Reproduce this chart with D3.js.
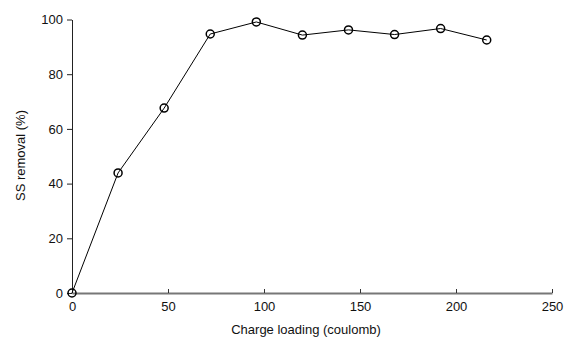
<!DOCTYPE html>
<html>
<head>
<meta charset="utf-8">
<style>
  body { margin: 0; background: #fff; }
  text { font-family: "Liberation Sans", Arial, sans-serif; font-size: 13px; }
</style>
</head>
<body>
<script src="https://cdn.jsdelivr.net/npm/d3@7"></script>
<script>

// Data
var charge  = [0, 24, 48, 72, 96, 120, 144, 168, 192, 216];
var removal = [0, 43.9, 67.6, 94.7, 99.1, 94.3, 96.2, 94.5, 96.7, 92.5];
var xTicks = [0, 50, 100, 150, 200, 250];
var yTicks = [0, 20, 40, 60, 80, 100];

var width = 569, height = 338;
var margin = {top: 19.5, right: 17, bottom: 45, left: 72};

var svg = d3.select("body").append("svg")
    .attr("width", width)
    .attr("height", height);

var x = d3.scaleLinear().domain([0, 250]).range([margin.left, width - margin.right]);
var y = d3.scaleLinear().domain([0, 100]).range([height - margin.bottom, margin.top]);

// y axis: thin dark line, ticks outward
var yAxis = svg.append("g")
    .attr("transform", `translate(${x(0)},0)`)
    .call(d3.axisLeft(y).tickValues(yTicks).tickSize(5).tickPadding(4).tickSizeOuter(0));
yAxis.select(".domain").attr("stroke", "#222");
yAxis.selectAll(".tick line").attr("stroke", "#222");
yAxis.selectAll("text").style("font-size", "13px").style("font-family", "Liberation Sans, Arial, sans-serif").attr("fill", "#111");

// x axis: gray line, ticks pointing up
var xAxis = svg.append("g")
    .attr("transform", `translate(0,${y(0)})`)
    .call(d3.axisBottom(x).tickValues(xTicks).tickSize(-4).tickPadding(9).tickSizeOuter(0));
xAxis.select(".domain").attr("stroke", "#777").attr("stroke-width", 2);
xAxis.selectAll(".tick line").attr("stroke", "#333");
xAxis.selectAll("text").style("font-size", "13px").style("font-family", "Liberation Sans, Arial, sans-serif").attr("fill", "#111");

// line
var line = d3.line()
    .x(function(d, i) { return x(charge[i]); })
    .y(function(d) { return y(d); });

svg.append("path")
    .datum(removal)
    .attr("fill", "none")
    .attr("stroke", "#000")
    .attr("stroke-width", 1)
    .attr("d", line);

// markers
svg.selectAll(".pt")
    .data(removal)
  .enter().append("circle")
    .attr("class", "pt")
    .attr("cx", function(d, i) { return x(charge[i]); })
    .attr("cy", function(d) { return y(d); })
    .attr("r", 4)
    .attr("fill", "none")
    .attr("stroke", "#000")
    .attr("stroke-width", 1.5);

// axis titles
svg.append("text")
    .attr("x", 306)
    .attr("y", 334)
    .attr("text-anchor", "middle")
    .attr("fill", "#111")
    .text("Charge loading (coulomb)");

svg.append("text")
    .attr("transform", `translate(25,155.5) rotate(-90)`)
    .attr("text-anchor", "middle")
    .attr("fill", "#111")
    .text("SS removal (%)");

</script>
</body>
</html>
